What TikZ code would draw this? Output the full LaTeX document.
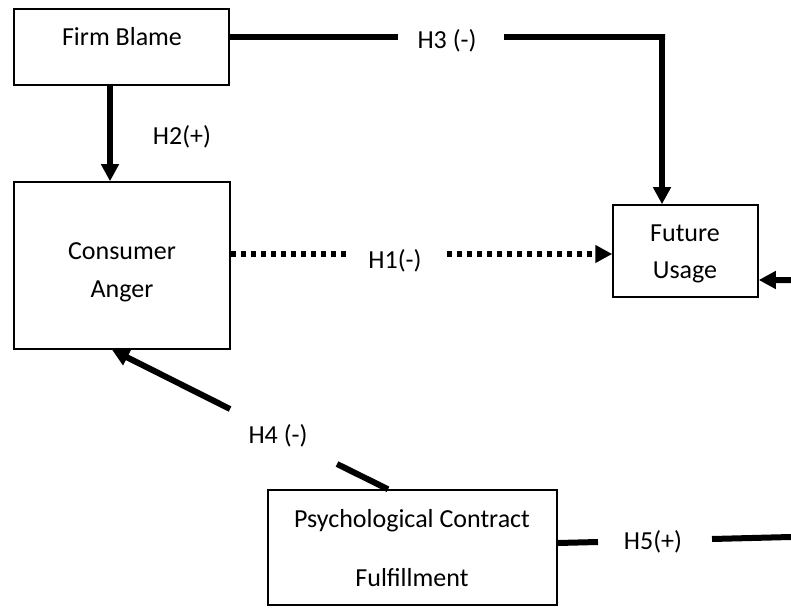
\documentclass[tikz,border=0pt]{standalone}
\usepackage{fontspec}
\setmainfont{Carlito}
\usetikzlibrary{arrows.meta,calc}

\tikzset{
  box/.style={draw=black, line width=1.5pt, fill=white, inner sep=0pt},
  txt/.style={anchor=base, inner sep=0pt, font=\fontsize{26}{30}\selectfont},
  conn/.style={line width=6pt, draw=black},
  tip/.style={-{Triangle[length=17pt,width=17pt]}},
  dots/.style={line width=5.5pt, dash pattern=on 5pt off 5pt}
}

\begin{document}
\begin{tikzpicture}[x=1pt,y=-1pt]
  \useasboundingbox (0,0) rectangle (791,609);
  \clip (0,0) rectangle (791,609);

  % boxes
  \node[box, minimum width=215pt, minimum height=76pt]  (fb) at (121.5,47)  {};
  \node[box, minimum width=216pt, minimum height=167pt] (ca) at (122,265.5) {};
  \node[box, minimum width=145pt, minimum height=92pt]  (fu) at (685.5,251) {};
  \node[box, minimum width=289pt, minimum height=115pt] (pc) at (412.5,547.5) {};

  % box texts
  \node[txt] (fbt)  at (122,46)  {Firm Blame};
  \node[txt] (cat1) at (122,259) {Consumer};
  \node[txt] (cat2) at (122,297) {Anger};
  \node[txt] (fut1) at (685,242) {Future};
  \node[txt] (fut2) at (685,278) {Usage};
  \node[txt] (pct1) at (412,527) {Psychological Contract};
  \node[txt] (pct2) at (412,586) {Fulfillment};

  % hypothesis labels
  \node[txt] (h1) at (395,269) {H1(-)};
  \node[txt] (h2) at (182,145) {H2(+)};
  \node[txt] (h3) at (447,49)  {H3 (-)};
  \node[txt] (h4) at (278,443) {H4 (-)};
  \node[txt] (h5) at (653,549) {H5(+)};

  % gap ends of the split connectors
  \coordinate (h3a) at (398,37);
  \coordinate (h3b) at (504,37);
  \coordinate (h3c) at (662,37);
  \coordinate (h1a) at (348,254);
  \coordinate (h1b) at (447,254);
  \coordinate (h4a) at (337,464);
  \coordinate (h4b) at (230,409);
  \coordinate (h5a) at (598,542);
  \coordinate (h5b) at (712,539);
  \coordinate (h5c) at (830,536);
  \coordinate (h5d) at (830,280);

  % H3: Firm Blame -> Future Usage
  \draw[conn] (fb.east |- h3a) -- (h3a);
  \draw[conn, tip] (h3b) -- ($(h3c)+(3,0)$) -- (h3c) -- (fu.north -| h3c);

  % H2: Firm Blame -> Consumer Anger
  \draw[conn, tip] ($(fb.south)+(-11.5,0)$) -- ($(ca.north)+(-12,0)$);

  % H1: Consumer Anger -> Future Usage (dotted)
  \draw[dots] (ca.east |- h1a) -- (h1a);
  \draw[dots, tip] (h1b) -- (fu.west |- h1b);

  % H4: Psychological Contract Fulfillment -> Consumer Anger
  \draw[conn] ($(pc.north)+(-24.5,0)$) -- (h4a);
  \draw[conn, tip] (h4b) -- ($(ca.south)+(-10,0)$);

  % H5: Psychological Contract Fulfillment -> Future Usage
  \draw[conn] (pc.east |- 0,543) -- (h5a);
  \draw[conn, tip] (h5b) -- (h5c) -- (h5d) -- (fu.east |- h5d);
\end{tikzpicture}
\end{document}
